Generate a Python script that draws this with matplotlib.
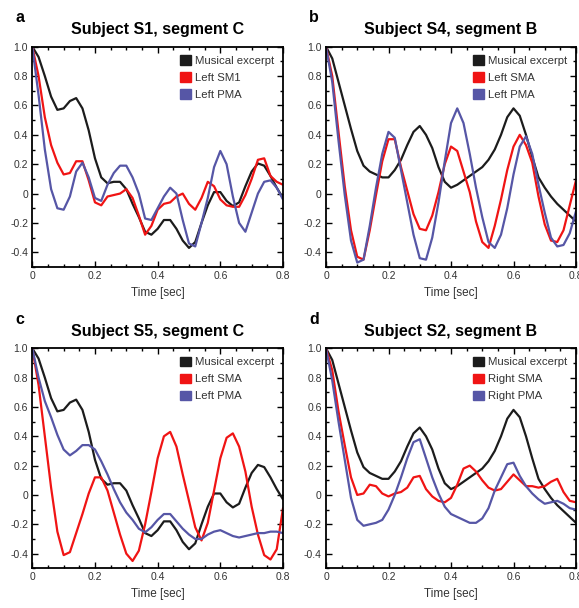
import numpy as np
import matplotlib
matplotlib.use('Agg')
import matplotlib.pyplot as plt
from matplotlib.patches import Patch
from matplotlib.ticker import MultipleLocator

plt.rcParams['font.family'] = ['Liberation Sans', 'DejaVu Sans']

# time lags [sec], step 0.02
t = np.round(np.arange(0, 0.801, 0.02), 2)

# musical excerpt autocorrelation, segment C (panels a, c) and segment B (panels b, d)
music_c = [1.00, 0.93, 0.80, 0.66, 0.57, 0.58, 0.63, 0.65, 0.58, 0.43,
           0.24, 0.11, 0.07, 0.08, 0.08, 0.03, -0.07, -0.16, -0.26, -0.28,
           -0.24, -0.18, -0.18, -0.24, -0.32, -0.37, -0.33, -0.20, -0.08, 0.01,
           0.01, -0.05, -0.085, -0.06, 0.05, 0.15, 0.205, 0.19, 0.12, 0.04,
           -0.03]
music_b = [1.00, 0.92, 0.76, 0.60, 0.44, 0.29, 0.19, 0.15, 0.13, 0.11,
           0.11, 0.16, 0.23, 0.33, 0.42, 0.46, 0.40, 0.31, 0.18, 0.08,
           0.04, 0.06, 0.09, 0.12, 0.15, 0.18, 0.23, 0.30, 0.40, 0.52,
           0.58, 0.53, 0.40, 0.25, 0.11, 0.04, -0.02, -0.07, -0.11, -0.15,
           -0.19]

# panel a: subject S1, segment C
s1_left_sm1 = [1.00, 0.80, 0.52, 0.33, 0.21, 0.13, 0.14, 0.22, 0.22, 0.09,
               -0.06, -0.08, -0.02, -0.01, 0.00, 0.03, -0.03, -0.15, -0.28, -0.22,
               -0.11, -0.07, -0.06, -0.02, 0.00, -0.07, -0.11, -0.03, 0.08, 0.05,
               -0.04, -0.08, -0.09, -0.09, -0.01, 0.10, 0.23, 0.24, 0.12, 0.08,
               0.06]
s1_left_pma = [1.00, 0.67, 0.30, 0.03, -0.10, -0.11, -0.02, 0.15, 0.21, 0.11,
               -0.03, -0.05, 0.06, 0.14, 0.19, 0.19, 0.11, 0.00, -0.17, -0.18,
               -0.10, -0.02, 0.04, 0.00, -0.18, -0.34, -0.36, -0.20, -0.03, 0.18,
               0.29, 0.20, -0.02, -0.20, -0.26, -0.13, 0.00, 0.08, 0.09, 0.04,
               -0.04]

# panel b: subject S4, segment B
s4_left_sma = [1.00, 0.80, 0.42, 0.05, -0.25, -0.43, -0.45, -0.25, -0.01, 0.22,
               0.37, 0.37, 0.18, 0.02, -0.14, -0.24, -0.25, -0.15, 0.01, 0.20,
               0.32, 0.29, 0.15, 0.01, -0.19, -0.33, -0.37, -0.22, -0.04, 0.16,
               0.32, 0.40, 0.33, 0.21, -0.02, -0.21, -0.32, -0.33, -0.25, -0.08,
               0.09]
s4_left_pma = [1.00, 0.76, 0.36, -0.01, -0.32, -0.47, -0.45, -0.22, 0.04, 0.27,
               0.42, 0.38, 0.16, -0.06, -0.28, -0.44, -0.45, -0.30, -0.06, 0.22,
               0.48, 0.58, 0.48, 0.27, 0.04, -0.16, -0.33, -0.37, -0.28, -0.10,
               0.13, 0.32, 0.39, 0.27, 0.06, -0.13, -0.30, -0.36, -0.35, -0.27,
               -0.12]

# panel c: subject S5, segment C
s5_left_sma = [1.00, 0.75, 0.40, 0.05, -0.25, -0.41, -0.39, -0.26, -0.13, 0.01,
               0.12, 0.12, 0.03, -0.12, -0.27, -0.40, -0.45, -0.38, -0.20, 0.02,
               0.25, 0.40, 0.43, 0.33, 0.14, -0.04, -0.22, -0.31, -0.19, 0.03,
               0.25, 0.39, 0.42, 0.33, 0.16, -0.08, -0.27, -0.41, -0.44, -0.37,
               -0.09]
s5_left_pma = [1.00, 0.80, 0.64, 0.53, 0.41, 0.31, 0.27, 0.30, 0.34, 0.34,
               0.31, 0.23, 0.14, 0.04, -0.05, -0.12, -0.17, -0.23, -0.255, -0.22,
               -0.17, -0.13, -0.13, -0.18, -0.23, -0.27, -0.30, -0.30, -0.27, -0.25,
               -0.24, -0.26, -0.28, -0.29, -0.28, -0.27, -0.26, -0.26, -0.25, -0.25,
               -0.26]

# panel d: subject S2, segment B
s2_right_sma = [1.00, 0.85, 0.57, 0.34, 0.12, 0.00, 0.01, 0.07, 0.06, 0.01,
                -0.01, 0.01, 0.02, 0.05, 0.12, 0.13, 0.04, -0.01, -0.04, -0.05,
                -0.02, 0.07, 0.18, 0.20, 0.16, 0.10, 0.05, 0.03, 0.04, 0.09,
                0.14, 0.10, 0.06, 0.06, 0.05, 0.06, 0.09, 0.11, 0.02, -0.04,
                -0.05]
s2_right_pma = [1.00, 0.78, 0.50, 0.24, -0.02, -0.17, -0.21, -0.20, -0.19, -0.17,
                -0.10, 0.00, 0.12, 0.25, 0.36, 0.38, 0.25, 0.12, 0.01, -0.08,
                -0.13, -0.15, -0.17, -0.19, -0.19, -0.16, -0.09, 0.03, 0.12, 0.21,
                0.22, 0.13, 0.06, 0.01, -0.03, -0.06, -0.05, -0.04, -0.06, -0.09,
                -0.10]

panel_letters = ['a', 'b', 'c', 'd']
titles = ['Subject S1, segment C', 'Subject S4, segment B',
          'Subject S5, segment C', 'Subject S2, segment B']
legend_labels = [['Musical excerpt', 'Left SM1', 'Left PMA'],
                 ['Musical excerpt', 'Left SMA', 'Left PMA'],
                 ['Musical excerpt', 'Left SMA', 'Left PMA'],
                 ['Musical excerpt', 'Right SMA', 'Right PMA']]
series = [[music_c, s1_left_sm1, s1_left_pma],
          [music_b, s4_left_sma, s4_left_pma],
          [music_c, s5_left_sma, s5_left_pma],
          [music_b, s2_right_sma, s2_right_pma]]
xticks = [0, 0.2, 0.4, 0.6, 0.8]
xticklabels = ['0', '0.2', '0.4', '0.6', '0.8']
yticks = [-0.4, -0.2, 0, 0.2, 0.4, 0.6, 0.8, 1.0]
yticklabels = ['-0.4', '-0.2', '0', '0.2', '0.4', '0.6', '0.8', '1.0']

colors = ['#1c1c1c', '#f01414', '#5656a6']

W, H = 579, 608
fig = plt.figure(figsize=(W / 100, H / 100), dpi=100)

# axes boxes in pixels: left, top, width, height
boxes = [(32.3, 46.7, 250.7, 220.3), (326.0, 46.7, 250.0, 220.3),
         (32.3, 348.3, 250.7, 220.0), (326.0, 348.3, 250.0, 220.0)]

for i, (l, top, w, h) in enumerate(boxes):
    ax = fig.add_axes([l / W, (H - top - h) / H, w / W, h / H])
    for ys, c in zip(series[i], colors):
        ax.plot(t, ys, color=c, lw=1.6, solid_joinstyle='round',
                solid_capstyle='round')
    ax.set_xlim(0, 0.8)
    ax.set_ylim(-0.5, 1.0)
    ax.set_xticks(xticks)
    ax.set_xticklabels(xticklabels)
    ax.set_yticks(yticks)
    ax.set_yticklabels(yticklabels)
    ax.xaxis.set_minor_locator(MultipleLocator(0.05))
    ax.yaxis.set_minor_locator(MultipleLocator(0.1))
    ax.tick_params(which='both', direction='in', top=True, right=True,
                   labelsize=7.5, labelcolor='#333333', width=1.0)
    ax.tick_params(which='major', length=4, pad=3)
    ax.tick_params(which='minor', length=2.5)
    for sp in ax.spines.values():
        sp.set_linewidth(1.3)
    ax.set_xlabel('Time [sec]', fontsize=8.5, color='#333333', labelpad=4)
    ax.set_title(titles[i], fontsize=11.5, fontweight='bold', pad=9)
    handles = [Patch(facecolor=c, edgecolor=c) for c in colors]
    ax.legend(handles, legend_labels[i], loc='upper right', frameon=False,
              fontsize=8.2, handlelength=0.95, handleheight=0.9,
              handletextpad=0.35, labelspacing=0.55, borderaxespad=0.35,
              labelcolor='#333333')
    fig.text((l - 17) / W, 1 - (top - 29) / H, panel_letters[i],
             fontsize=11.5, fontweight='bold', va='center', ha='left')

fig.savefig('out.png', dpi=100)
